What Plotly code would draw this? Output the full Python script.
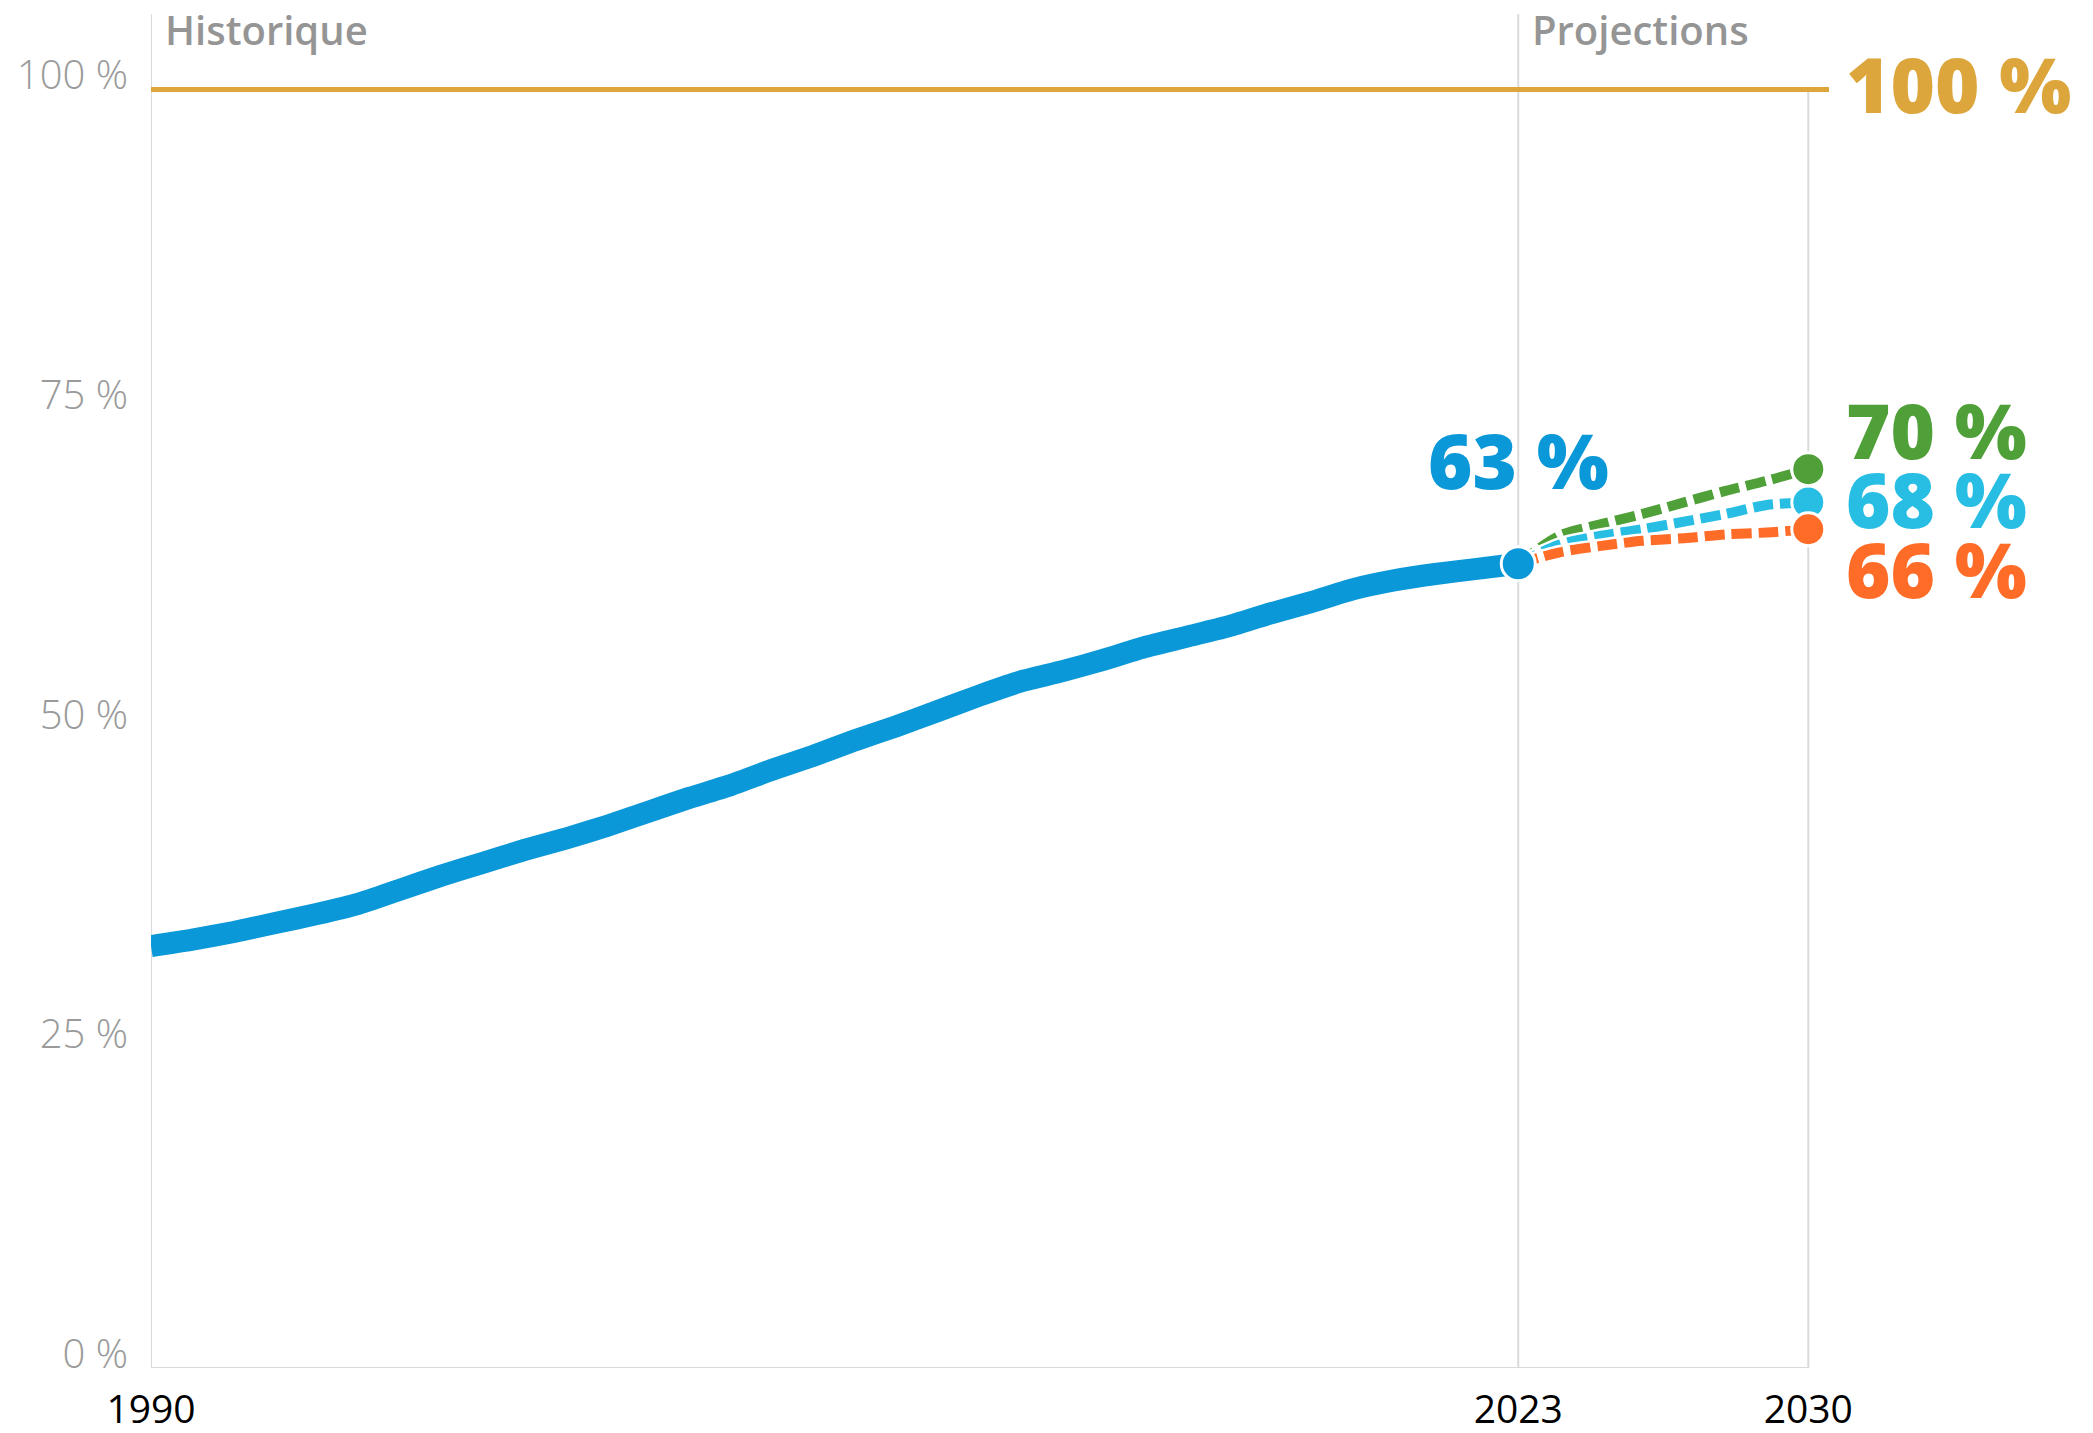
import plotly.graph_objects as go

# ---------------- data ----------------
years_hist = list(range(1990, 2024))
share_hist = [33.0, 33.5, 34.1, 34.8, 35.5, 36.3, 37.4, 38.5, 39.5, 40.5,
              41.4, 42.4, 43.5, 44.6, 45.6, 46.8, 47.9, 49.1, 50.2, 51.4,
              52.6, 53.7, 54.5, 55.4, 56.4, 57.2, 58.0, 59.0, 59.9, 60.9,
              61.6, 62.1, 62.5, 62.9]

years_proj = list(range(2023, 2031))
proj_high = [62.9, 65.1, 66.0, 66.8, 67.7, 68.6, 69.4, 70.3]   # green
proj_mid = [62.9, 64.4, 65.1, 65.6, 66.2, 66.8, 67.5, 67.7]    # cyan
proj_low = [62.9, 63.8, 64.3, 64.7, 64.9, 65.2, 65.35, 65.6]   # orange

target_value = 100
x_ticks = [1990, 2023, 2030]
y_ticks = [0, 25, 50, 75, 100]
y_tick_text = ["0 %", "25 %", "50 %", "75 %", "100 %"]
section_labels = ["Historique", "Projections"]

# ---------------- style ----------------
BLUE = "#0a98d8"
GREEN = "#50a03a"
CYAN = "#28bee4"
ORANGE = "#ff6c28"
GOLD = "#dca63c"
GRID = "#dadada"
GRAY_TXT = "#9a9a9a"
HEAD_TXT = "#959595"
BIG_FONT = "Open Sans"
BIG_SIZE = 76

fig = go.Figure()

# historical line
fig.add_trace(go.Scatter(x=years_hist, y=share_hist, mode="lines",
                         line=dict(color=BLUE, width=22, shape="spline", smoothing=0.6),
                         hoverinfo="skip", showlegend=False))

# projections (white halo + dashed colour)
for vals, col in [(proj_high, GREEN), (proj_mid, CYAN), (proj_low, ORANGE)]:
    fig.add_trace(go.Scatter(x=years_proj, y=vals, mode="lines",
                             line=dict(color="white", width=15, shape="spline", smoothing=0.8),
                             hoverinfo="skip", showlegend=False))
    fig.add_trace(go.Scatter(x=years_proj, y=vals, mode="lines",
                             line=dict(color=col, width=10, shape="spline", smoothing=0.8,
                                       dash="20px,7px"),
                             hoverinfo="skip", showlegend=False))

# end markers
for vals, col in [(proj_mid, CYAN), (proj_high, GREEN), (proj_low, ORANGE)]:
    fig.add_trace(go.Scatter(x=[years_proj[-1]], y=[vals[-1]], mode="markers",
                             marker=dict(size=33, color=col, line=dict(color="white", width=3)),
                             cliponaxis=False, hoverinfo="skip", showlegend=False))

fig.add_trace(go.Scatter(x=[years_hist[-1]], y=[share_hist[-1]], mode="markers",
                         marker=dict(size=34, color=BLUE, line=dict(color="white", width=3)),
                         cliponaxis=False, hoverinfo="skip", showlegend=False))

# ---------------- shapes ----------------
shapes = [
    dict(type="line", xref="x", yref="paper", x0=x_ticks[0], x1=x_ticks[0], y0=0, y1=1,
         line=dict(color=GRID, width=2), layer="below"),
    dict(type="line", xref="x", yref="paper", x0=x_ticks[1], x1=x_ticks[1], y0=0, y1=1,
         line=dict(color=GRID, width=2), layer="below"),
    dict(type="line", xref="x", yref="y", x0=x_ticks[2], x1=x_ticks[2], y0=0, y1=target_value,
         line=dict(color=GRID, width=2), layer="below"),
    dict(type="line", xref="x", yref="y", x0=x_ticks[0], x1=x_ticks[2], y0=0, y1=0,
         line=dict(color=GRID, width=2), layer="below"),
    dict(type="line", xref="x", yref="y", x0=x_ticks[0], x1=2030.5, y0=target_value, y1=target_value,
         line=dict(color=GOLD, width=5), layer="below"),
]


def pct(v):
    return f"{int(v + 0.5)} %"


annotations = [
    dict(x=x_ticks[0], y=104.7, xref="x", yref="y", text=section_labels[0], showarrow=False,
         xanchor="left", yanchor="middle", xshift=12,
         font=dict(family="Open Sans", size=40, color=HEAD_TXT, weight=600)),
    dict(x=x_ticks[1], y=104.7, xref="x", yref="y", text=section_labels[1], showarrow=False,
         xanchor="left", yanchor="middle", xshift=12,
         font=dict(family="Open Sans", size=40, color=HEAD_TXT, weight=600)),
    dict(x=x_ticks[2], y=target_value, xref="x", yref="y", text=pct(target_value), showarrow=False,
         xanchor="left", yanchor="middle", xshift=36, yshift=6,
         font=dict(family=BIG_FONT, size=BIG_SIZE, color=GOLD, weight=800)),
    dict(x=years_hist[-1], y=share_hist[-1], xref="x", yref="y", text=pct(share_hist[-1]),
         showarrow=False, xanchor="center", yanchor="middle", yshift=104,
         font=dict(family=BIG_FONT, size=BIG_SIZE, color=BLUE, weight=800)),
    dict(x=years_proj[-1], y=proj_high[-1], xref="x", yref="y", text=pct(proj_high[-1]),
         showarrow=False, xanchor="left", yanchor="middle", xshift=36, yshift=40,
         font=dict(family=BIG_FONT, size=BIG_SIZE, color=GREEN, weight=800)),
    dict(x=years_proj[-1], y=proj_mid[-1], xref="x", yref="y", text=pct(proj_mid[-1]),
         showarrow=False, xanchor="left", yanchor="middle", xshift=36, yshift=4,
         font=dict(family=BIG_FONT, size=BIG_SIZE, color=CYAN, weight=800)),
    dict(x=years_proj[-1], y=proj_low[-1], xref="x", yref="y", text=pct(proj_low[-1]),
         showarrow=False, xanchor="left", yanchor="middle", xshift=36, yshift=-39,
         font=dict(family=BIG_FONT, size=BIG_SIZE, color=ORANGE, weight=800)),
]

fig.update_layout(
    width=2093, height=1433,
    margin=dict(l=151, r=2093 - 1829, t=14, b=65),
    paper_bgcolor="white", plot_bgcolor="white",
    showlegend=False,
    shapes=shapes, annotations=annotations,
    xaxis=dict(range=[1990, 2030.5], showgrid=False, zeroline=False, showline=False,
               tickmode="array", tickvals=x_ticks, ticks="", automargin=False,
               tickfont=dict(family="Open Sans", size=39, color="black"),
               ticklabelstandoff=15),
    yaxis=dict(range=[0, 105.9], showgrid=False, zeroline=False, showline=False,
               tickmode="array", tickvals=y_ticks, ticktext=y_tick_text, ticks="",
               automargin=False, ticklabelshift=-14, ticklabelstandoff=22,
               tickfont=dict(family="Open Sans", size=40, color=GRAY_TXT, weight=300)),
)

fig.write_html("out.html")
